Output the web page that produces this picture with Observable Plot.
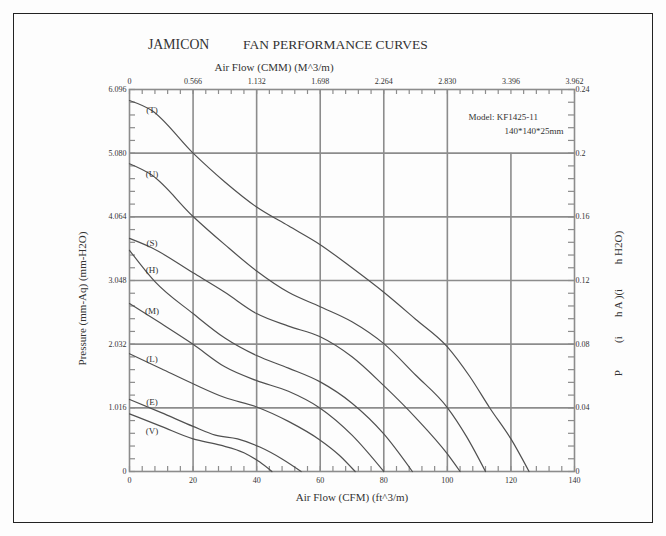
<!DOCTYPE html>
<html><head><meta charset="utf-8">
<script src="https://cdn.jsdelivr.net/npm/d3@7"></script>
<script src="https://cdn.jsdelivr.net/npm/@observablehq/plot@0.6"></script>
<style>
body{margin:0;background:#fff;}
#wrap{position:relative;width:666px;height:536px;overflow:hidden;background:#fdfdfd;}
#border{position:absolute;left:13px;top:13px;width:640px;height:510px;border:1.5px solid #222;box-sizing:border-box;pointer-events:none;}
.t{position:absolute;font-family:"Liberation Serif",serif;color:#333;white-space:nowrap;line-height:1;}
#chart{position:absolute;left:0;top:0;}
</style></head><body>
<div id="wrap">
<div id="chart"></div>
<div class="t" style="left:148px;top:38px;font-size:13.8px">JAMICON</div>
<div class="t" style="left:243px;top:38px;font-size:13.5px">FAN PERFORMANCE CURVES</div>
<div id="border"></div>
</div>
<script>
// ---- tick values & labels ----
const cfmTicks = [0, 20, 40, 60, 80, 100, 120, 140];
const cmmLabels = ["0", "0.566", "1.132", "1.698", "2.264", "2.830", "3.396", "3.962"];
const mmTicks = [0, 1.016, 2.032, 3.048, 4.064, 5.080, 6.096];
const mmLabels = ["0", "1.016", "2.032", "3.048", "4.064", "5.080", "6.096"];
const inchLabels = ["0", "0.04", "0.08", "0.12", "0.16", "0.2", "0.24"];
const gridX = [20, 40, 60, 80, 100];
const gridXShort = [120];
const gridXShortTop = 5.080;
const gridY = [1.016, 2.032, 3.048, 4.064, 5.080];
const minorX = d3.range(0, 141, 4);
const minorY = d3.range(0, 31).map(i => i * 0.2032);

// ---- curves: [airflow CFM, pressure mm-H2O] ----
const T = [[0,5.92],[7,5.76],[20,5.08],[30,4.62],[40,4.22],[50,3.92],[60,3.62],[70,3.25],[80,2.86],[90,2.43],[100,1.99],[107,1.52],[113.4,1.01],[120,0.52],[125.7,0]];
const U = [[0,4.91],[7,4.73],[20,4.07],[30,3.62],[40,3.20],[50,2.86],[60,2.63],[70,2.39],[80,2.04],[90,1.54],[100,1.02],[106,0.56],[112,0]];
const S = [[0,3.72],[7,3.57],[20,3.17],[30,2.86],[40,2.52],[50,2.32],[60,2.15],[70,1.83],[80,1.37],[90,0.86],[100,0.28],[104,0]];
const Hc = [[0,3.53],[8,3.03],[20,2.52],[30,2.13],[40,1.85],[50,1.65],[60,1.43],[70,1.09],[80,0.60],[89,0]];
const M = [[0,2.68],[10,2.36],[20,2.03],[30,1.67],[40,1.45],[50,1.28],[60,1.01],[70,0.58],[80,0]];
const L = [[0,1.88],[10,1.64],[20,1.40],[30,1.18],[40,1.03],[50,0.80],[60,0.50],[66,0.26],[71,0]];
const E = [[0,1.15],[10,0.94],[20,0.72],[27,0.58],[34,0.52],[41,0.39],[48,0.20],[54,0]];
const V = [[0,0.92],[10,0.72],[20,0.52],[28.6,0.42],[36,0.30],[41,0.15],[44.8,0]];

const seriesNames = ["T", "U", "S", "H", "M", "L", "E", "V"];
const seriesData = [T, U, S, Hc, M, L, E, V];
const labelX = [7.1, 7.1, 7.1, 7.1, 7.1, 7.1, 7.1, 7.1];
const labelY = [5.77, 4.74, 3.65, 3.22, 2.56, 1.80, 1.11, 0.65];

const rows = seriesNames.flatMap((n, i) => seriesData[i].map(([x, y]) => ({name: n, x, y})));
const labels = seriesNames.map((n, i) => ({text: "(" + n + ")", x: labelX[i], y: labelY[i]}));

const W = 666, Ht = 536, mL = 129, mR = 92, mT = 89, mB = 65;
const fW = W - mL - mR, fH = Ht - mT - mB;
const gridColor = "#8c8c8c", lineColor = "#505050", textColor = "#333";

const chart = Plot.plot({
  width: W, height: Ht,
  marginLeft: mL, marginRight: mR, marginTop: mT, marginBottom: mB,
  style: {fontFamily: "'Liberation Serif', serif", fontSize: "8px", color: textColor, background: "transparent"},
  x: {domain: [0, 140]},
  y: {domain: [0, 6.096]},
  marks: [
    Plot.ruleX(gridX, {stroke: gridColor, strokeWidth: 1.6}),
    Plot.ruleX(gridXShort, {y1: 0, y2: gridXShortTop, stroke: gridColor, strokeWidth: 1.6}),
    Plot.ruleY(gridY, {stroke: gridColor, strokeWidth: 1.6}),
    Plot.frame({stroke: gridColor, strokeWidth: 1.6}),
    Plot.tickX(minorX, {x: d => d, insetTop: fH - 5, stroke: gridColor, strokeWidth: 1.2}),
    Plot.tickX(minorX, {x: d => d, insetBottom: fH - 5, stroke: gridColor, strokeWidth: 1.2}),
    Plot.tickY(minorY, {y: d => d, insetRight: fW - 6, stroke: gridColor, strokeWidth: 1.2}),
    Plot.tickY(minorY, {y: d => d, insetLeft: fW - 6, stroke: gridColor, strokeWidth: 1.2}),
    Plot.axisX(cfmTicks, {anchor: "bottom", tickSize: 0, tickPadding: 6, label: null, tickFormat: d => String(d)}),
    Plot.axisX(cfmTicks, {anchor: "top", tickSize: 0, tickPadding: 6, label: null, tickFormat: d => cmmLabels[cfmTicks.indexOf(d)]}),
    Plot.axisY(mmTicks, {anchor: "left", tickSize: 0, tickPadding: 3, label: null, tickFormat: d => mmLabels[mmTicks.indexOf(d)]}),
    Plot.axisY(mmTicks, {anchor: "right", tickSize: 0, tickPadding: 1, label: null, tickFormat: d => inchLabels[mmTicks.indexOf(d)]}),
    Plot.line(rows, {x: "x", y: "y", z: "name", stroke: lineColor, strokeWidth: 1.2, curve: "monotone-x"}),
    Plot.text(labels, {x: "x", y: "y", text: "text", fontSize: 9, fill: textColor}),
    Plot.text(["Model: KF1425-11"], {frameAnchor: "top-right", dx: -106, dy: 24, textAnchor: "start", fontSize: 9, fill: textColor}),
    Plot.text(["140*140*25mm"], {frameAnchor: "top-right", dx: -11, dy: 38, textAnchor: "end", fontSize: 9, fill: textColor}),
    Plot.text(["Air Flow (CMM) (M^3/m)"], {frameAnchor: "top", dx: -78, dy: -26, textAnchor: "middle", fontSize: 11, fill: textColor}),
    Plot.text(["Air Flow (CFM) (ft^3/m)"], {frameAnchor: "bottom", dy: 29, textAnchor: "middle", fontSize: 11, fill: textColor}),
    Plot.text(["Pressure (mm-Aq) (mm-H2O)"], {frameAnchor: "left", dx: -47, dy: 18, rotate: -90, textAnchor: "middle", fontSize: 11, fill: textColor}),
    Plot.text(["P          (i       h A )(i         h H2O)"], {frameAnchor: "right", dx: 44, dy: 23, rotate: -90, textAnchor: "middle", fontSize: 11, fill: textColor})
  ]
});
document.getElementById("chart").appendChild(chart);
</script>
</body></html>
